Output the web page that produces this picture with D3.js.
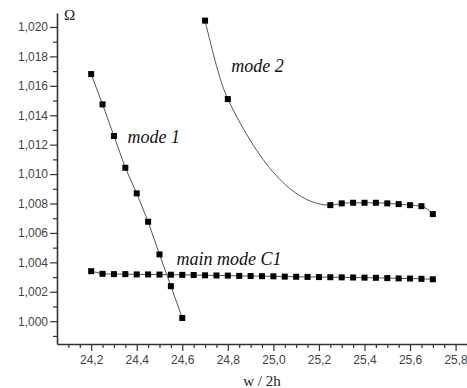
<!DOCTYPE html>
<html><head><meta charset="utf-8">
<script src="https://cdn.jsdelivr.net/npm/d3@7"></script>
<style>body{margin:0;background:#fff}svg{display:block}</style>
</head><body>
<svg id="c" width="467" height="388"></svg>
<script>
// ---- data ----
const mode1X = [24.2,24.25,24.3,24.35,24.4,24.45,24.5,24.55,24.6];
const mode1Y = [1.0168,1.01474,1.01259,1.01043,1.00869,1.00676,1.00454,1.00238,1.00022];
const mode2X = [24.7,24.8,25.25,25.3,25.35,25.4,25.45,25.5,25.55,25.6,25.65,25.7];
const mode2Y = [1.02043,1.0151,1.00789,1.00801,1.00805,1.00805,1.00805,1.00801,1.00796,1.00789,1.00782,1.00728];
const mainX = [24.2,24.25,24.3,24.35,24.4,24.45,24.5,24.55,24.6,24.65,24.7,24.75,24.8,24.85,24.9,24.95,25.0,25.05,25.1,25.15,25.2,25.25,25.3,25.35,25.4,25.45,25.5,25.55,25.6,25.65,25.7];
const mainY = [1.0034,1.00322,1.0032,1.0032,1.00318,1.00318,1.00317,1.00316,1.00315,1.00314,1.00312,1.00311,1.0031,1.00308,1.00307,1.00306,1.00305,1.00303,1.00302,1.00301,1.003,1.00299,1.00298,1.00297,1.00296,1.00295,1.00293,1.00291,1.0029,1.00288,1.00285];
const xMajor = [24.2,24.4,24.6,24.8,25.0,25.2,25.4,25.6,25.8];
const yMajor = [1.000,1.002,1.004,1.006,1.008,1.010,1.012,1.014,1.016,1.018,1.020];
const labels = [
  {text:"mode 1", x:24.36, y:1.0121},
  {text:"mode 2", x:24.815, y:1.01695},
  {text:"main mode C1", x:24.575, y:1.00385}
];

const svg = d3.select("#c");
const x = d3.scaleLinear().domain([24.05,25.85]).range([57,467]);
const y = d3.scaleLinear().domain([0.99845,1.02095]).range([344,13]);
const fmt = d => d3.format(".3f")(d).replace(".",",");
const fmtx = d => d3.format(".1f")(d).replace(".",",");

const xMinor = d3.range(24.1,25.86,0.05).filter(v=>!xMajor.some(m=>Math.abs(m-v)<1e-6));
const yMinor = d3.range(0.999,1.0205,0.002);

const ax = svg.append("g").attr("transform","translate(0,344)");
ax.call(d3.axisBottom(x).tickValues(xMinor).tickSize(4).tickFormat(""));
ax.call(g=>g.select(".domain").remove());
svg.append("g").attr("transform","translate(0,344)")
  .call(d3.axisBottom(x).tickValues(xMajor).tickSize(7).tickSizeOuter(0).tickFormat(fmtx).tickPadding(4));
const ay = svg.append("g").attr("transform","translate(57,0)");
ay.call(d3.axisLeft(y).tickValues(yMinor).tickSize(4).tickFormat(""));
ay.call(g=>g.select(".domain").remove());
svg.append("g").attr("transform","translate(57,0)")
  .call(d3.axisLeft(y).tickValues(yMajor).tickSize(7).tickSizeOuter(0).tickFormat(fmt).tickPadding(2));
svg.selectAll(".domain").attr("stroke","#333").attr("stroke-width",1.6);
svg.selectAll(".tick line").attr("stroke","#333").attr("stroke-width",1.2);
svg.selectAll(".tick text").attr("font-family","'Liberation Sans',Arial,sans-serif").attr("font-size",12).attr("fill","#444");

function series(xs, ys, curve){
  const pts = xs.map((v,i)=>[v,ys[i]]);
  svg.append("path").datum(pts)
    .attr("d", d3.line().x(d=>x(d[0])).y(d=>y(d[1])).curve(curve))
    .attr("fill","none").attr("stroke","#555").attr("stroke-width",1);
  svg.append("g").selectAll("rect").data(pts).join("rect")
    .attr("x",d=>x(d[0])-3).attr("y",d=>y(d[1])-3)
    .attr("width",6).attr("height",6).attr("fill","#000");
}
series(mode1X, mode1Y, d3.curveLinear);
series(mode2X, mode2Y, d3.curveMonotoneX);
series(mainX, mainY, d3.curveLinear);

svg.selectAll(".lbl").data(labels).join("text")
  .attr("x",d=>x(d.x)).attr("y",d=>y(d.y))
  .attr("font-family","'Liberation Serif','Times New Roman',serif")
  .attr("font-style","italic").attr("font-size",18).attr("fill","#111")
  .text(d=>d.text);

svg.append("text").attr("x",64).attr("y",20)
  .attr("font-family","'Liberation Serif',serif").attr("font-size",15).attr("fill","#222").text("Ω");
svg.append("text").attr("x",262).attr("y",386).attr("text-anchor","middle")
  .attr("font-family","'Liberation Serif',serif").attr("font-size",15).attr("fill","#222").text("w / 2h");
</script>
</body></html>
